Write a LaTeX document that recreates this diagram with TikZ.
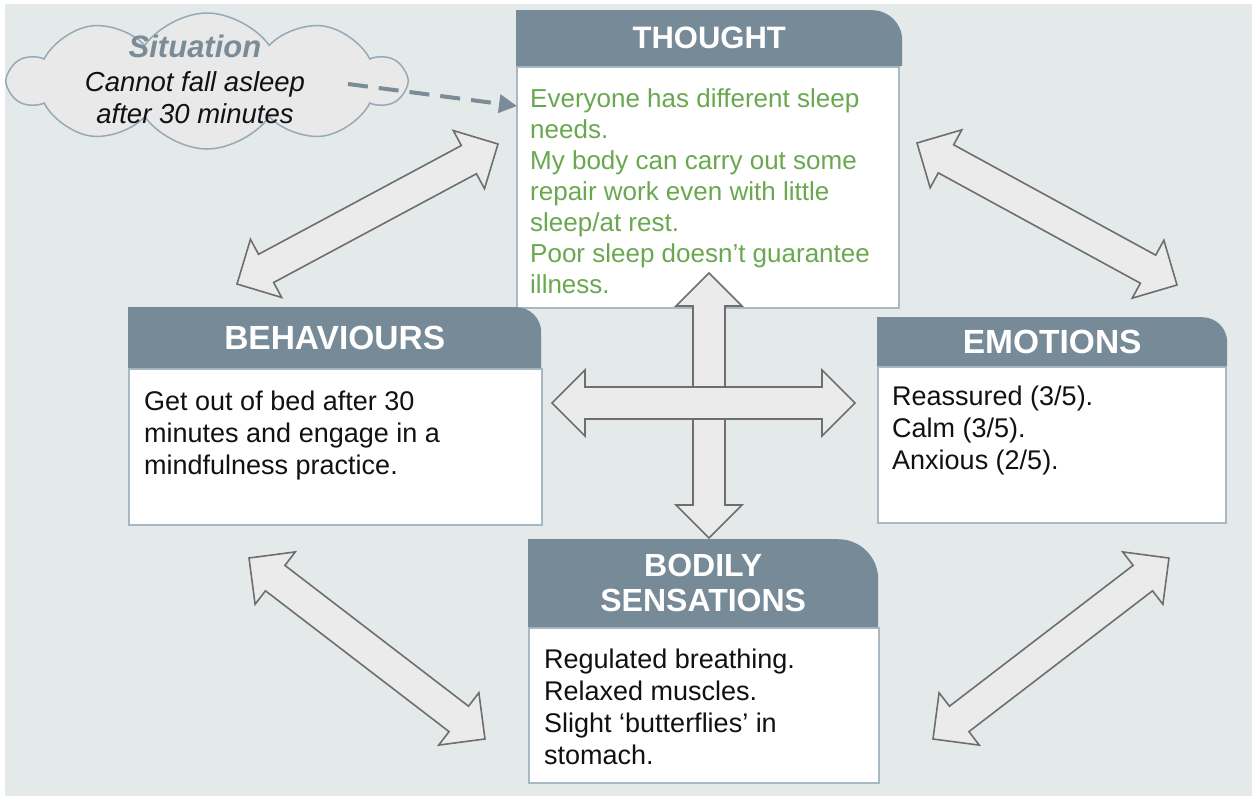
\documentclass[tikz,border=0pt]{standalone}
\usepackage{fontspec}
\setmainfont{Liberation Sans}
\usetikzlibrary{calc,positioning,shapes.symbols,arrows.meta}
\definecolor{bg}{HTML}{E4EAEA}
\definecolor{hdrc}{HTML}{768A98}
\definecolor{edge}{HTML}{A9B9C3}
\definecolor{thgreen}{HTML}{6AA84F}
\definecolor{arrfill}{HTML}{EBEBEB}
\definecolor{arredge}{HTML}{6E6E6E}
\definecolor{cloudfill}{HTML}{E9E9E9}
\definecolor{cloudedge}{HTML}{97A9B4}
\definecolor{dashc}{HTML}{7A8C98}
\definecolor{ink}{HTML}{111111}
\tikzset{
  hdr/.style={text=white, font=\fontsize{33.5}{35}\selectfont\bfseries, align=center,
    inner sep=0pt, anchor=north west,
    path picture={\fill[hdrc] (path picture bounding box.south west)
      -- (path picture bounding box.north west) [rounded corners=#1]
      -- (path picture bounding box.north east) [sharp corners]
      -- (path picture bounding box.south east) -- cycle;}},
  hdr/.default=25pt,
  bodybox/.style={draw=edge, fill=white, line width=2pt, inner sep=0pt, anchor=north west},
  bodytxt/.style={text=ink, font=\fontsize{27}{32}\selectfont, align=left, inner sep=0pt, anchor=north west},
  blockarr/.style={draw=arredge, fill=arrfill, line width=1.6pt, line join=miter},
  dasharr/.style={draw=dashc, line width=4pt, dash pattern=on 20pt off 11pt, -{Triangle[length=18pt,width=18pt]}},
  sittxt/.style={text=ink, font=\fontsize{27.5}{32}\selectfont\itshape, align=center, inner sep=0pt},
  sitlab/.style={text=dashc, font=\fontsize{31}{33}\selectfont\bfseries\itshape, inner sep=0pt}
}
\newcommand{\dblarrow}[2]{%
  \path let \p1=(#1), \p2=(#2) in
    \pgfextra{\pgfmathsetmacro\tmpang{atan2(\y2-\y1,\x2-\x1)}\xdef\arrang{\tmpang}%
      \pgfmathsetmacro\tmplen{veclen(\x2-\x1,\y2-\y1)}\xdef\arrlen{\tmplen}};
  \begin{scope}[shift={(#1)}, rotate=\arrang]
    \draw[blockarr] (0,0) -- (33,33) -- (33,16) -- ({\arrlen-33},16) -- ({\arrlen-33},33)
      -- (\arrlen,0) -- ({\arrlen-33},-33) -- ({\arrlen-33},-16) -- (33,-16) -- (33,-33) -- cycle;
  \end{scope}}

\begin{document}
\begin{tikzpicture}[x=1pt, y=-1pt]
  \useasboundingbox (0,0) rectangle (1252,796);
  \fill[white] (0,0) rectangle (1252,796);
  \fill[bg] (5,4) rectangle (1252,796);

  % situation cloud
  \node[cloud, cloud puffs=10, cloud puff arc=110, aspect=3, draw=cloudedge, fill=cloudfill,
    line width=1.5pt, minimum width=395pt, minimum height=136pt] (sit) at (207,81) {};
  \node[sittxt, label={[sitlab, label distance=14pt]above:Situation}] (sittx) at (195,98)
    {Cannot fall asleep\\after 30 minutes};

  % boxes
  \node[bodybox, minimum width=382pt, minimum height=241pt] (thoughtbd) at (516,66) {};
  \node[hdr=30pt, font=\fontsize{31}{35}\selectfont\bfseries, minimum width=386pt,
    minimum height=56pt] (thoughthd) at (516,10) {THOUGHT};
  \node[bodytxt, text=thgreen, font=\fontsize{26}{31}\selectfont] (thoughttx)
    at ($(thoughtbd.north west)+(14,22)$)
    {Everyone has different sleep\\needs.\\My body can carry out some\\repair work even with little\\sleep/at rest.\\Poor sleep doesn’t guarantee\\illness.};

  \node[bodybox, minimum width=413pt, minimum height=156pt] (behavbd) at (128,368) {};
  \node[hdr, minimum width=413pt, minimum height=61pt] (behavhd) at (128,307) {BEHAVIOURS};
  \node[bodytxt] (behavtx) at ($(behavbd.north west)+(16,23)$)
    {Get out of bed after 30\\minutes and engage in a\\mindfulness practice.};

  \node[bodybox, minimum width=348pt, minimum height=156pt] (emotbd) at (877,366) {};
  \node[hdr, minimum width=350pt, minimum height=49pt] (emothd) at (877,317) {EMOTIONS};
  \node[bodytxt] (emottx) at ($(emotbd.north west)+(15,20)$)
    {Reassured (3/5).\\Calm (3/5).\\Anxious (2/5).};

  \node[bodybox, minimum width=350pt, minimum height=155pt] (bodybd) at (528,627) {};
  \node[hdr=40pt, font=\fontsize{32}{35}\selectfont\bfseries, minimum width=350pt,
    minimum height=88pt] (bodyhd) at (528,539) {BODILY\\SENSATIONS};
  \node[bodytxt] (bodytx) at ($(bodybd.north west)+(16,22)$)
    {Regulated breathing.\\Relaxed muscles.\\Slight ‘butterflies’ in\\stomach.};

  % connectors
  \coordinate (dashfrom) at (348,84);
  \coordinate (dashto) at (517,106);
  \draw[dasharr] (dashfrom) -- (dashto);

  \coordinate (thbeh1) at (237,284);  \coordinate (thbeh2) at (498,144);
  \coordinate (themo1) at (917,143);  \coordinate (themo2) at (1177,285);
  \coordinate (behbod1) at (249,558); \coordinate (behbod2) at (485,739);
  \coordinate (emobod1) at (933,739); \coordinate (emobod2) at (1169,558);
  \coordinate (thbod1) at (709,273);  \coordinate (thbod2) at (709,538);
  \coordinate (behemo1) at (552,403); \coordinate (behemo2) at (855,403);
  \foreach \a/\b in {thbeh1/thbeh2, themo1/themo2, behbod1/behbod2, emobod1/emobod2,
    thbod1/thbod2, behemo1/behemo2}
    \dblarrow{\a}{\b};
\end{tikzpicture}
\end{document}
